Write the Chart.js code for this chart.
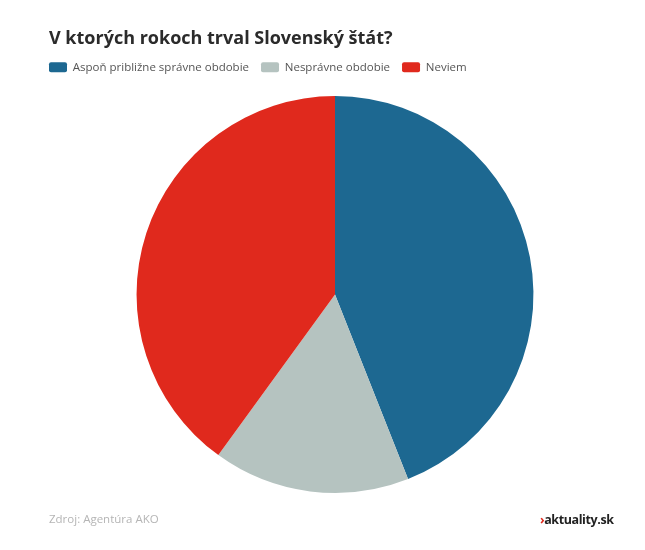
<html>
<head>
<script src="https://cdn.jsdelivr.net/npm/chart.js"></script>
<style>
  body { margin: 0; background: #fff; }
  #wrap { position: relative; width: 645px; height: 550px; }
  .foot { position: absolute; top: 511px; font-family: "Open Sans", sans-serif; font-size: 11.5px; }
</style>
</head>
<body>
<div id="wrap">
  <canvas id="myChart" width="645" height="550"></canvas>
  <div class="foot" style="left:49px;color:#b5b5b5">Zdroj: Agentúra AKO</div>
  <div class="foot" style="left:540px;color:#222;font-weight:bold;font-size:12.5px;letter-spacing:-0.4px"><span style="color:#e0281c">›</span>aktuality.sk</div>
</div>
<script>
var labels = ["Aspoň približne správne obdobie", "Nesprávne obdobie", "Neviem"];
var values = [44, 16, 40];
var colors = ["#1d6891", "#b5c3c0", "#e0291d"];

// legend: pull it to the left edge and leave some room under it
var legendTweak = {
  id: 'legendTweak',
  beforeInit: function(chart) {
    var fit = chart.legend.fit;
    chart.legend.fit = function() {
      fit.bind(chart.legend)();
      this.height += 13;
    };
  },
  afterLayout: function(chart) {
    chart.legend.left -= 12;
    chart.legend.right -= 12;
  }
};

window.onload = function() {
  var ctx = document.getElementById('myChart').getContext('2d');
  var myChart = new Chart(ctx, {
    type: 'pie',
    data: {
      labels: labels,
      datasets: [{
        data: values,
        backgroundColor: colors,
        borderWidth: 0
      }]
    },
    options: {
      responsive: false,
      animation: false,
      layout: { padding: { left: 49, right: 24, top: 0, bottom: 57 } },
      plugins: {
        tooltip: { enabled: false },
        title: {
          display: true,
          text: "V ktorých rokoch trval Slovenský štát?",
          align: 'start',
          color: '#2b2b2b',
          font: { family: "Open Sans", size: 18, weight: 'bold' },
          padding: { top: 28, bottom: 0 }
        },
        legend: {
          position: 'top',
          align: 'start',
          labels: {
            boxWidth: 18,
            boxHeight: 10,
            useBorderRadius: true,
            borderRadius: 2,
            color: '#555',
            padding: 12,
            font: { family: "Open Sans", size: 11.5 }
          }
        }
      }
    },
    plugins: [legendTweak]
  });
};
</script>
</body>
</html>
